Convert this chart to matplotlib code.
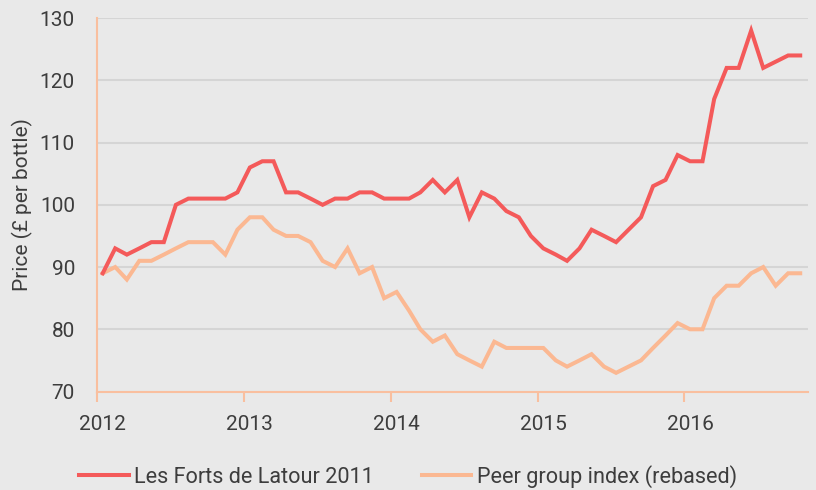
import matplotlib
matplotlib.use('Agg')
import matplotlib.pyplot as plt
import pandas as pd

# monthly prices, Jan 2012 - Oct 2016 (plotted mid-month)
months = pd.date_range('2012-01-01', periods=58, freq='MS') + pd.Timedelta(days=14)

forts_latour = [
    89, 93, 92, 93, 94, 94, 100, 101, 101, 101, 101, 102,
    106, 107, 107, 102, 102, 101, 100, 101, 101, 102, 102, 101,
    101, 101, 102, 104, 102, 104, 98, 102, 101, 99, 98, 95,
    93, 92, 91, 93, 96, 95, 94, 96, 98, 103, 104, 108,
    107, 107, 117, 122, 122, 128, 122, 123, 124, 124,
]
peer_index = [
    89, 90, 88, 91, 91, 92, 93, 94, 94, 94, 92, 96,
    98, 98, 96, 95, 95, 94, 91, 90, 93, 89, 90, 85,
    86, 83, 80, 78, 79, 76, 75, 74, 78, 77, 77, 77,
    77, 75, 74, 75, 76, 74, 73, 74, 75, 77, 79, 81,
    80, 80, 85, 87, 87, 89, 90, 87, 89, 89,
]
series_names = ['Les Forts de Latour 2011', 'Peer group index (rebased)']
year_labels = ['2012', '2013', '2014', '2015', '2016']
y_ticks = [70, 80, 90, 100, 110, 120, 130]

BG = '#e9e9e9'
TEXT = '#3d3d3d'
RED = '#f45a5a'
PEACH = '#fbb892'
AXIS = '#f9bf9f'
GRID = '#d5d5d5'

plt.rcParams['font.family'] = ['Roboto', 'DejaVu Sans']
plt.rcParams['font.size'] = 15

fig = plt.figure(figsize=(8.16, 4.9), dpi=100)
fig.set_facecolor(BG)
ax = fig.add_axes([0.119, 0.201, 0.871, 0.762])
ax.set_facecolor(BG)

ax.plot(months, forts_latour, color=RED, lw=2.9, solid_joinstyle='miter', label=series_names[0], zorder=3)
ax.plot(months, peer_index, color=PEACH, lw=2.9, solid_joinstyle='miter', label=series_names[1], zorder=2)

ax.set_ylim(70, 130)
ax.set_yticks(y_ticks)
ax.set_xlim(pd.Timestamp('2012-01-01'), pd.Timestamp('2016-11-03'))

# year ticks at Jan 1, labels over the January point
year_starts = [pd.Timestamp(y + '-01-01') for y in year_labels]
label_pos = [pd.Timestamp(y + '-01-15') for y in year_labels]
ax.set_xticks(label_pos)
ax.set_xticklabels(year_labels)
ax.set_xticks(year_starts, minor=True)
ax.tick_params(axis='x', which='major', length=0, pad=17, colors=TEXT)
ax.tick_params(axis='x', which='minor', length=7, width=1.5, color=AXIS)
ax.tick_params(axis='y', length=0, pad=16, colors=TEXT)

ax.grid(True, axis='y', color=GRID, lw=1.5, zorder=0)
ax.set_axisbelow(True)
for side in ['top', 'right']:
    ax.spines[side].set_visible(False)
for side in ['left', 'bottom']:
    ax.spines[side].set_color(AXIS)
    ax.spines[side].set_linewidth(1.5)

ax.set_ylabel('Price (£ per bottle)', color=TEXT, labelpad=5)

fig.legend(loc='lower center', bbox_to_anchor=(0.5, -0.036), ncol=2, frameon=False,
           fontsize=15.6, handlelength=2.3, handletextpad=0.25, columnspacing=2.2,
           labelcolor=TEXT)

fig.savefig('out.png', dpi=100, facecolor=fig.get_facecolor())
